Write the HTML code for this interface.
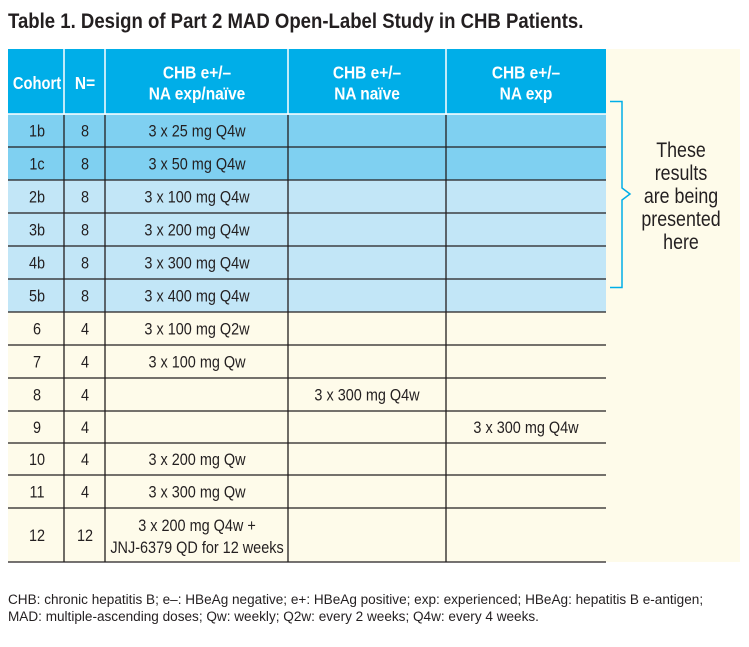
<!DOCTYPE html>
<html><head><meta charset="utf-8"><style>
body{margin:0;width:749px;height:647px;background:#fff;overflow:hidden}
svg{position:absolute;left:0;top:0}
text{font-family:"Liberation Sans",sans-serif;fill:#231f20}
.b{font-size:17px}
.h{font-size:18px;font-weight:bold;fill:#fff}
.s{font-size:21px}
</style></head><body>
<svg width="749" height="647" xmlns="http://www.w3.org/2000/svg">
<text transform="translate(8,28) scale(.885,1)" style="font-size:21px;font-weight:bold">Table 1. Design of Part 2 MAD Open-Label Study in CHB Patients.</text>
<rect x="8" y="49" width="732" height="513" fill="#fefbea"/>
<rect x="8" y="49" width="598" height="65" fill="#00aee8"/>
<rect x="8" y="114" width="598" height="66" fill="#7fd0f1"/>
<rect x="8" y="180" width="598" height="132" fill="#c2e6f7"/>
<g stroke="#fff" stroke-width="1.5">
<line x1="64" y1="49" x2="64" y2="114"/><line x1="105" y1="49" x2="105" y2="114"/><line x1="288" y1="49" x2="288" y2="114"/><line x1="446" y1="49" x2="446" y2="114"/>
<line x1="8" y1="114" x2="606" y2="114"/>
</g>
<g stroke="#231f20" stroke-width="1.3">
<line x1="64" y1="115" x2="64" y2="562"/><line x1="105" y1="115" x2="105" y2="562"/><line x1="288" y1="115" x2="288" y2="562"/><line x1="446" y1="115" x2="446" y2="562"/>
<line x1="8" y1="147" x2="606" y2="147"/><line x1="8" y1="180" x2="606" y2="180"/><line x1="8" y1="213" x2="606" y2="213"/><line x1="8" y1="246" x2="606" y2="246"/><line x1="8" y1="279" x2="606" y2="279"/><line x1="8" y1="312" x2="606" y2="312"/><line x1="8" y1="345" x2="606" y2="345"/><line x1="8" y1="378" x2="606" y2="378"/><line x1="8" y1="411" x2="606" y2="411"/><line x1="8" y1="443" x2="606" y2="443"/><line x1="8" y1="475" x2="606" y2="475"/><line x1="8" y1="508" x2="606" y2="508"/><line x1="8" y1="562" x2="606" y2="562"/>
</g>
<g class="h" text-anchor="middle">
<text class="h" transform="translate(37,89) scale(.82,1)">Cohort</text>
<text class="h" transform="translate(85,89) scale(.86,1)">N=</text>
<text class="h" transform="translate(197,78.5) scale(.86,1)">CHB e+/–</text>
<text class="h" transform="translate(197,99.5) scale(.86,1)">NA exp/naïve</text>
<text class="h" transform="translate(367,78.5) scale(.86,1)">CHB e+/–</text>
<text class="h" transform="translate(367,99.5) scale(.86,1)">NA naïve</text>
<text class="h" transform="translate(526,78.5) scale(.86,1)">CHB e+/–</text>
<text class="h" transform="translate(526,99.5) scale(.86,1)">NA exp</text>
</g>
<g text-anchor="middle">
<text class="b" transform="translate(37,136.5) scale(.85,1)">1b</text><text class="b" transform="translate(85,136.5) scale(.85,1)">8</text><text class="b" transform="translate(197,136.5) scale(.85,1)">3 x 25 mg Q4w</text>
<text class="b" transform="translate(37,169.5) scale(.85,1)">1c</text><text class="b" transform="translate(85,169.5) scale(.85,1)">8</text><text class="b" transform="translate(197,169.5) scale(.85,1)">3 x 50 mg Q4w</text>
<text class="b" transform="translate(37,202.5) scale(.85,1)">2b</text><text class="b" transform="translate(85,202.5) scale(.85,1)">8</text><text class="b" transform="translate(197,202.5) scale(.85,1)">3 x 100 mg Q4w</text>
<text class="b" transform="translate(37,235.5) scale(.85,1)">3b</text><text class="b" transform="translate(85,235.5) scale(.85,1)">8</text><text class="b" transform="translate(197,235.5) scale(.85,1)">3 x 200 mg Q4w</text>
<text class="b" transform="translate(37,268.5) scale(.85,1)">4b</text><text class="b" transform="translate(85,268.5) scale(.85,1)">8</text><text class="b" transform="translate(197,268.5) scale(.85,1)">3 x 300 mg Q4w</text>
<text class="b" transform="translate(37,301.5) scale(.85,1)">5b</text><text class="b" transform="translate(85,301.5) scale(.85,1)">8</text><text class="b" transform="translate(197,301.5) scale(.85,1)">3 x 400 mg Q4w</text>
<text class="b" transform="translate(37,334.5) scale(.85,1)">6</text><text class="b" transform="translate(85,334.5) scale(.85,1)">4</text><text class="b" transform="translate(197,334.5) scale(.85,1)">3 x 100 mg Q2w</text>
<text class="b" transform="translate(37,367.5) scale(.85,1)">7</text><text class="b" transform="translate(85,367.5) scale(.85,1)">4</text><text class="b" transform="translate(197,367.5) scale(.85,1)">3 x 100 mg Qw</text>
<text class="b" transform="translate(37,400.5) scale(.85,1)">8</text><text class="b" transform="translate(85,400.5) scale(.85,1)">4</text><text class="b" transform="translate(367,400.5) scale(.85,1)">3 x 300 mg Q4w</text>
<text class="b" transform="translate(37,433) scale(.85,1)">9</text><text class="b" transform="translate(85,433) scale(.85,1)">4</text><text class="b" transform="translate(526,433) scale(.85,1)">3 x 300 mg Q4w</text>
<text class="b" transform="translate(37,465) scale(.85,1)">10</text><text class="b" transform="translate(85,465) scale(.85,1)">4</text><text class="b" transform="translate(197,465) scale(.85,1)">3 x 200 mg Qw</text>
<text class="b" transform="translate(37,497.5) scale(.85,1)">11</text><text class="b" transform="translate(85,497.5) scale(.85,1)">4</text><text class="b" transform="translate(197,497.5) scale(.85,1)">3 x 300 mg Qw</text>
<text class="b" transform="translate(37,541) scale(.85,1)">12</text><text class="b" transform="translate(85,541) scale(.85,1)">12</text>
<text class="b" transform="translate(197,531) scale(.85,1)">3 x 200 mg Q4w +</text>
<text class="b" transform="translate(197,553) scale(.85,1)">JNJ-6379 QD for 12 weeks</text>
</g>
<path d="M610 101.5H622V188L630 194L622 200V287.5H610" fill="none" stroke="#00aee8" stroke-width="1.5"/>
<g text-anchor="middle">
<text class="s" transform="translate(681,157) scale(.85,1)">These</text>
<text class="s" transform="translate(681,180) scale(.85,1)">results</text>
<text class="s" transform="translate(681,203) scale(.85,1)">are being</text>
<text class="s" transform="translate(681,226) scale(.85,1)">presented</text>
<text class="s" transform="translate(681,249) scale(.85,1)">here</text>
</g>
<text transform="translate(8,604) scale(.97,1)" style="font-size:14px">CHB: chronic hepatitis B; e–: HBeAg negative; e+: HBeAg positive; exp: experienced; HBeAg: hepatitis B e-antigen;</text>
<text transform="translate(8,621) scale(.97,1)" style="font-size:14px">MAD: multiple-ascending doses; Qw: weekly; Q2w: every 2 weeks; Q4w: every 4 weeks.</text>
</svg>
</body></html>
